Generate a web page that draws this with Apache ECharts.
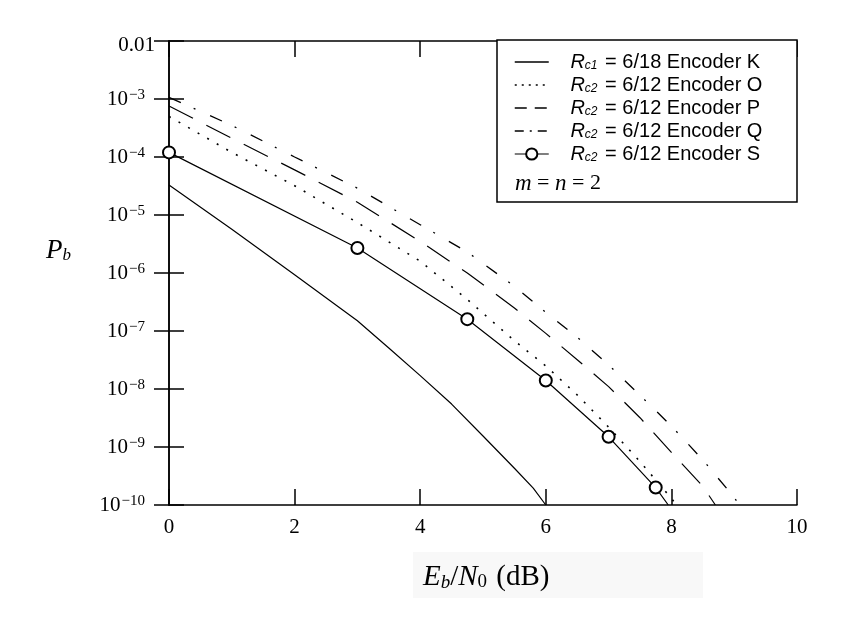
<!DOCTYPE html>
<html>
<head>
<meta charset="utf-8">
<script src="https://cdn.jsdelivr.net/npm/echarts@6/dist/echarts.min.js"></script>
<style>
  html, body { margin: 0; padding: 0; background: #fff; }
  #chart { width: 846px; height: 622px; }
</style>
</head>
<body>
<div id="chart"></div>
<script>
// Eb/N0 (dB) and Pb, one pair of arrays per encoder
var ebn0K = [0, 1, 2, 3, 3.5, 4, 4.5, 5, 5.5, 5.8, 6];
var pbK   = [3.3e-5, 5.7e-6, 9.3e-7, 1.5e-7, 5.1e-8, 1.7e-8, 5.5e-9, 1.55e-9, 4.3e-10, 1.95e-10, 1e-10];

var ebn0O = [0, 1, 2, 3, 4, 4.75, 5.5, 6, 6.5, 7, 7.5, 8, 8.08];
var pbO   = [5e-4, 1.2e-4, 3.2e-5, 7.4e-6, 1.6e-6, 3.5e-7, 6.8e-8, 2.5e-8, 7.9e-9, 2.2e-9, 5.6e-10, 1.3e-10, 1e-10];

var ebn0P = [0, 1, 2, 3, 4, 4.75, 5.5, 6, 6.5, 7, 7.5, 8, 8.5, 8.7];
var pbP   = [7.6e-4, 2.1e-4, 6e-5, 1.66e-5, 3.5e-6, 1e-6, 2.5e-7, 9.1e-8, 3.2e-8, 1.1e-8, 3.2e-9, 8.1e-10, 2.1e-10, 1e-10];

var ebn0Q = [0, 1, 2, 3, 4, 4.75, 5.5, 6, 6.5, 7, 7.5, 8, 8.5, 9, 9.08];
var pbQ   = [1.07e-3, 3.5e-4, 1e-4, 2.9e-5, 6.8e-6, 2.3e-6, 5.9e-7, 2.1e-7, 7.8e-8, 2.6e-8, 7.8e-9, 2.3e-9, 6e-10, 1.35e-10, 1e-10];

// circles sit on every point except the last one (where the curve meets the axis)
var ebn0S = [0, 3, 4.75, 6, 7, 7.75, 7.95];
var pbS   = [1.2e-4, 2.7e-6, 1.6e-7, 1.4e-8, 1.5e-9, 2e-10, 1e-10];

var legendLabels = {
    'Encoder K': '{r|R}{s|c1} = 6/18 Encoder K',
    'Encoder O': '{r|R}{s|c2} = 6/12 Encoder O',
    'Encoder P': '{r|R}{s|c2} = 6/12 Encoder P',
    'Encoder Q': '{r|R}{s|c2} = 6/12 Encoder Q',
    'Encoder S': '{r|R}{s|c2} = 6/12 Encoder S'
};

var SERIF = 'Liberation Serif';
var SANS = 'Liberation Sans';

function pairs(xs, ys) {
    return xs.map(function (x, i) { return [x, ys[i]]; });
}

function lineSeries(name, xs, ys, dash, width) {
    return {
        type: 'line',
        name: name,
        data: pairs(xs, ys),
        symbol: 'none',
        lineStyle: { color: '#000', width: width, type: dash },
        itemStyle: { color: '#000' },
        z: 2
    };
}

var chart = echarts.init(document.getElementById('chart'), null, { renderer: 'canvas' });

var sData = pairs(ebn0S, pbS).map(function (p, i) {
    return i === ebn0S.length - 1 ? { value: p, symbol: 'none' } : { value: p };
});

var axisLineStyle = { color: '#000', width: 1.5 };
var noSymbol = { color: 'rgba(0,0,0,0)', borderColor: 'rgba(0,0,0,0)', borderWidth: 0 };

var option = {
    animation: false,
    backgroundColor: '#fff',
    grid: { left: 169, top: 41, width: 628, height: 464 },
    xAxis: [
        {
            type: 'value', min: 0, max: 10, interval: 2,
            position: 'bottom',
            axisLine: { lineStyle: axisLineStyle },
            axisTick: { inside: true, length: 16, lineStyle: axisLineStyle },
            splitLine: { show: false },
            axisLabel: { margin: 12, color: '#000', fontFamily: SERIF, fontSize: 21 }
        },
        {
            type: 'value', min: 0, max: 10, interval: 2,
            position: 'top',
            axisLine: { lineStyle: axisLineStyle },
            axisTick: { inside: true, length: 16, lineStyle: axisLineStyle },
            splitLine: { show: false },
            axisLabel: { show: false }
        }
    ],
    yAxis: [
        {
            type: 'log', logBase: 10, min: 1e-10, max: 1e-2,
            position: 'left',
            axisLine: { lineStyle: axisLineStyle },
            axisTick: { inside: true, length: 15, lineStyle: axisLineStyle },
            splitLine: { show: false },
            minorTick: { show: false },
            axisLabel: {
                margin: 14,
                formatter: function (v) {
                    var e = Math.round(Math.log10(v));
                    if (e === -2) return '{plain|0.01}';
                    return '{base|10}{sup|\u2212' + (-e) + '}';
                },
                rich: {
                    plain: { fontFamily: SERIF, fontSize: 21, color: '#000', lineHeight: 22, padding: [8, 0, 0, 0] },
                    base: { fontFamily: SERIF, fontSize: 21, color: '#000', lineHeight: 22, verticalAlign: 'bottom' },
                    sup: { fontFamily: SERIF, fontSize: 15, color: '#000', lineHeight: 16, verticalAlign: 'top', padding: [0, 10, 14, 1] }
                }
            }
        },
        {
            type: 'log', logBase: 10, min: 1e-10, max: 1e-2,
            position: 'right',
            axisLine: { lineStyle: axisLineStyle },
            axisTick: { inside: true, length: 15, lineStyle: axisLineStyle },
            splitLine: { show: false },
            minorTick: { show: false },
            axisLabel: { show: false }
        }
    ],
    legend: {
        orient: 'vertical',
        left: 514,
        top: 52,
        padding: 0,
        itemWidth: 34,
        itemHeight: 14,
        itemGap: 3,
        z: 6,
        data: [
            { name: 'Encoder K', itemStyle: noSymbol, lineStyle: { type: 'solid', width: 1.5 } },
            { name: 'Encoder O', itemStyle: noSymbol, lineStyle: { type: [2, 5], width: 1.5 } },
            { name: 'Encoder P', itemStyle: noSymbol, lineStyle: { type: [12, 8], width: 1.5 } },
            { name: 'Encoder Q', itemStyle: noSymbol, lineStyle: { type: [9, 6, 2, 6], width: 1.5 } },
            { name: 'Encoder S', lineStyle: { type: 'solid', width: 1.2 } }
        ],
        formatter: function (name) { return '   ' + legendLabels[name]; },
        textStyle: {
            color: '#000',
            fontFamily: SANS,
            fontSize: 20,
            lineHeight: 20,
            rich: {
                r: { fontFamily: SANS, fontStyle: 'italic', fontSize: 20, color: '#000', lineHeight: 20 },
                s: { fontFamily: SANS, fontStyle: 'italic', fontSize: 12, color: '#000', lineHeight: 12, verticalAlign: 'bottom', padding: [0, 2, 0, 0] }
            }
        }
    },
    graphic: [
        {
            type: 'rect', z: -1,
            shape: { x: 413, y: 552, width: 290, height: 46 },
            style: { fill: '#f8f8f8' },
            silent: true
        },
        {
            type: 'text', z: 5,
            x: 423, y: 562,
            style: {
                text: '{i|E}{s|b}{n|/}{i|N}{s0|0}{n| (dB)}',
                fill: '#000',
                rich: {
                    i: { fontFamily: SERIF, fontStyle: 'italic', fontSize: 29, fill: '#000', verticalAlign: 'bottom', lineHeight: 30 },
                    n: { fontFamily: SERIF, fontSize: 29, fill: '#000', verticalAlign: 'bottom', lineHeight: 30 },
                    s: { fontFamily: SERIF, fontStyle: 'italic', fontSize: 19, fill: '#000', verticalAlign: 'bottom', lineHeight: 20 },
                    s0: { fontFamily: SERIF, fontSize: 19, fill: '#000', verticalAlign: 'bottom', lineHeight: 20, padding: [0, 2, 0, 0] }
                }
            },
            silent: true
        },
        {
            type: 'text', z: 5,
            x: 46, y: 236,
            style: {
                text: '{i|P}{s|b}',
                fill: '#000',
                rich: {
                    i: { fontFamily: SERIF, fontStyle: 'italic', fontSize: 27, fill: '#000', verticalAlign: 'bottom', lineHeight: 28 },
                    s: { fontFamily: SERIF, fontStyle: 'italic', fontSize: 17, fill: '#000', verticalAlign: 'bottom', lineHeight: 18 }
                }
            },
            silent: true
        },
        {
            type: 'rect', z: 3,
            shape: { x: 497, y: 40, width: 300, height: 162 },
            style: { fill: '#fff', stroke: '#000', lineWidth: 1.5 },
            silent: true
        },
        {
            type: 'text', z: 7,
            x: 515, y: 172,
            style: {
                text: '{i|m} = {i|n} = 2',
                fill: '#000',
                font: '22px "Liberation Serif"',
                rich: {
                    i: { fontFamily: SERIF, fontStyle: 'italic', fontSize: 23, fill: '#000' }
                }
            },
            silent: true
        }
    ],
    series: [
        lineSeries('Encoder K', ebn0K, pbK, 'solid', 1.2),
        lineSeries('Encoder O', ebn0O, pbO, [2, 9], 1.6),
        lineSeries('Encoder P', ebn0P, pbP, [27, 15], 1.2),
        lineSeries('Encoder Q', ebn0Q, pbQ, [13, 14, 2, 16], 1.3),
        {
            type: 'line',
            name: 'Encoder S',
            data: sData,
            symbol: 'emptyCircle',
            symbolSize: 12,
            showAllSymbol: true,
            lineStyle: { color: '#000', width: 1.2 },
            itemStyle: { color: '#000', borderColor: '#000', borderWidth: 1.3 },
            z: 2
        }
    ]
};

chart.setOption(option);
</script>
</body>
</html>
